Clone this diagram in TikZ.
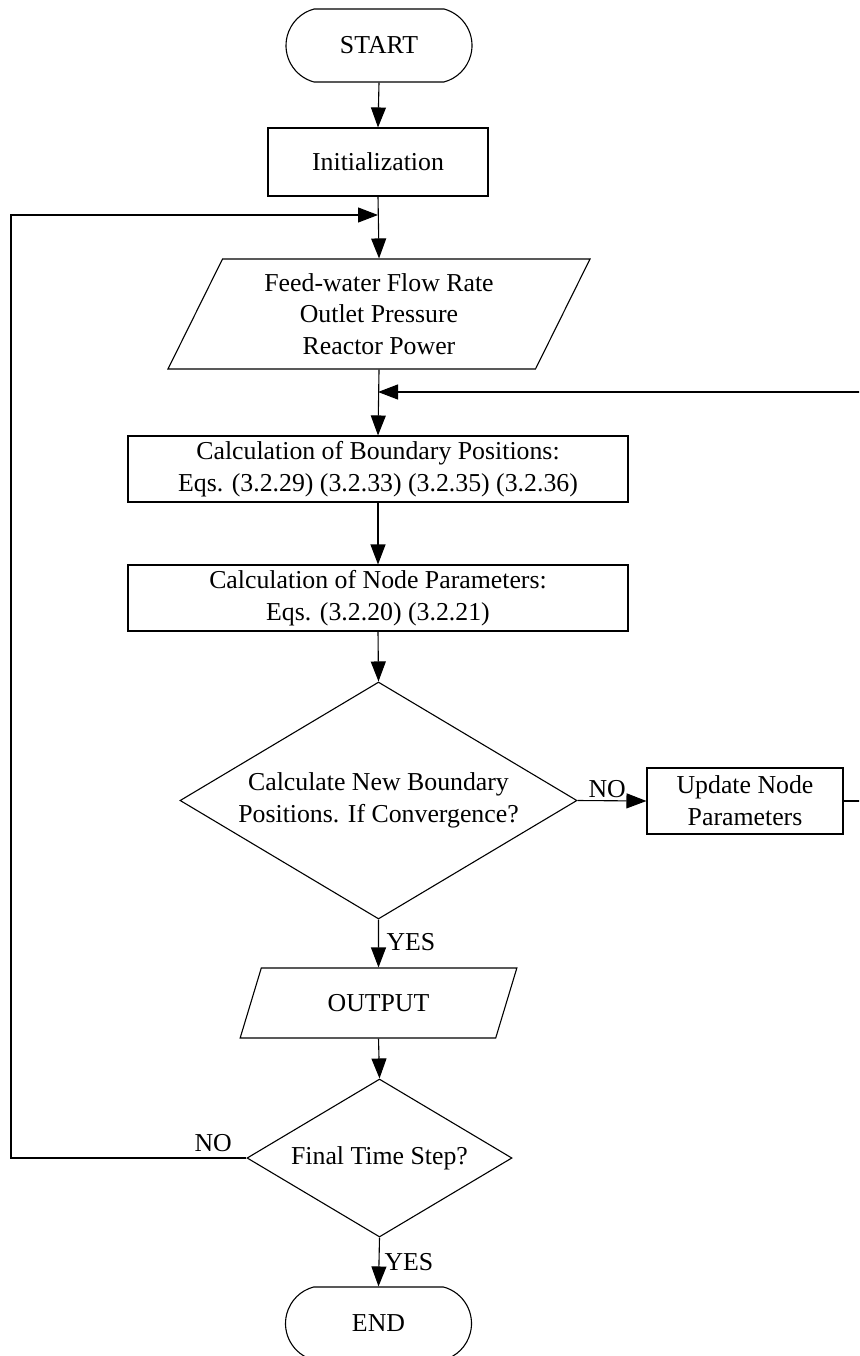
\documentclass[tikz,border=0pt]{standalone}
\usepackage{fontspec}
\setmainfont{Liberation Serif}
\usetikzlibrary{shapes.geometric,shapes.misc,arrows.meta}
\begin{document}
\begin{tikzpicture}[x=1pt,y=-1pt, line width=1.1pt,
  every node/.style={font=\fontsize{25.8}{31.7}\selectfont, align=center},
  term/.style={draw, rounded rectangle, rounded rectangle arc length=150, minimum width=186, minimum height=73, inner sep=0},
  proc/.style={draw, rectangle, inner sep=0},
  io/.style={draw, trapezium, trapezium stretches=true, inner sep=0},
  dec/.style={draw, diamond, inner sep=0},
  arr/.style={-{Triangle[length=20pt,width=15pt]}},
  lbl/.style={inner sep=0, anchor=base west}
]
\useasboundingbox (0,0) rectangle (859,1356);
\clip (0,0) rectangle (859,1356);

\node[term] (start) at (379,45.5) {START};
\node[proc, minimum width=220, minimum height=68] (init) at (378,162) {Initialization};
\node[io, trapezium left angle=63.9, trapezium right angle=116.1, minimum width=424, minimum height=110] (inp) at (379,314) {Feed-water Flow Rate\\Outlet Pressure\\Reactor Power};
\node[proc, minimum width=500, minimum height=66] (bnd) at (378,469) {Calculation of Boundary Positions:\\Eqs. (3.2.29) (3.2.33) (3.2.35) (3.2.36)};
\node[proc, minimum width=500, minimum height=66] (par) at (378,598) {Calculation of Node Parameters:\\Eqs. (3.2.20) (3.2.21)};
\node[dec, aspect=1.675, minimum width=397, minimum height=237] (conv) at (378.5,800.5) {Calculate New Boundary\\Positions. If Convergence?};
\node[proc, minimum width=196, minimum height=66] (upd) at (745,801) {Update Node\\Parameters};
\node[io, trapezium left angle=62.1, trapezium right angle=117.9, minimum width=277, minimum height=70] (out) at (378.5,1003) {OUTPUT};
\node[dec, aspect=1.677, minimum width=265, minimum height=158] (fin) at (379.5,1158) {Final Time Step?};
\node[term] (end) at (378.5,1323.5) {END};

\coordinate (j1) at (378,215);
\coordinate (j2) at (378,392);
\coordinate (lx) at (11,0);
\coordinate (rx) at (866,0);

\draw[arr] (start.south) -- (init.north);
\draw[arr] (init.south) -- (inp.north);
\draw[arr] (inp.south) -- (bnd.north);
\draw[arr] (bnd.south) -- (par.north);
\draw[arr] (par.south) -- (conv.north);
\draw[arr] (conv.east) -- (upd.west);
\draw[arr] (upd.east) -| (rx |- j2) -- (j2);
\draw[arr] (conv.south) -- (out.north);
\draw[arr] (out.south) -- (fin.north);
\draw[arr] (fin.west) -| (lx |- j1) -- (j1);
\draw[arr] (fin.south) -- (end.north);

\node[lbl] (no1) at (588,797) {NO};
\node[lbl] (yes1) at (386,950) {YES};
\node[lbl] (no2) at (194,1151) {NO};
\node[lbl] (yes2) at (384,1270) {YES};
\end{tikzpicture}
\end{document}
